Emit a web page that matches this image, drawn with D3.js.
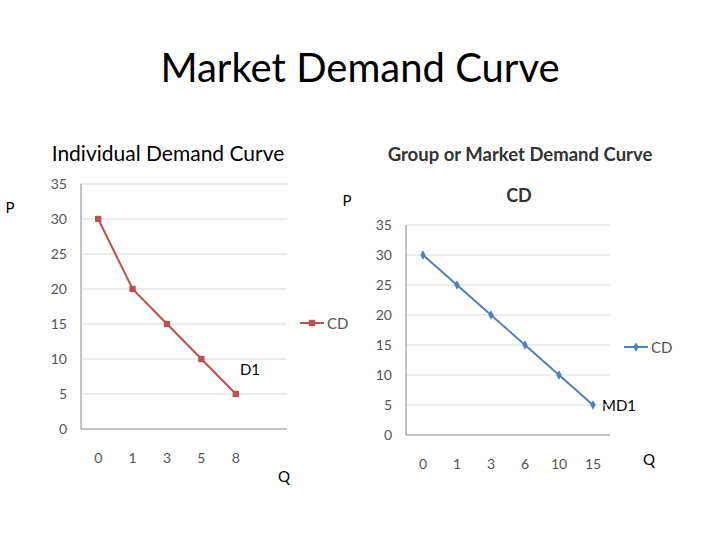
<!DOCTYPE html>
<html><head><meta charset="utf-8">
<script src="https://cdn.jsdelivr.net/npm/d3@7/dist/d3.min.js"></script>
<style>body{margin:0;background:#fff}text{font-family:Lato,"Open Sans",sans-serif}</style>
</head><body><svg id="c" width="720" height="540"></svg>
<script>
const leftCats=["0","1","3","5","8"];
const leftVals=[30,20,15,10,5];
const rightCats=["0","1","3","6","10","15"];
const rightVals=[30,25,20,15,10,5];
const yTicks=[0,5,10,15,20,25,30,35];

const svg=d3.select("#c");
svg.append("text").attr("x",360).attr("y",82).attr("text-anchor","middle").attr("font-size",40).text("Market Demand Curve");
svg.append("text").attr("x",168).attr("y",161).attr("text-anchor","middle").attr("font-size",21).text("Individual Demand Curve");
svg.append("text").attr("x",520).attr("y",161).attr("text-anchor","middle").attr("font-size",18.5).attr("font-weight","bold").attr("fill","#333").text("Group or Market Demand Curve");
svg.append("text").attr("x",10).attr("y",213).attr("text-anchor","middle").attr("font-size",15).text("P");
svg.append("text").attr("x",347).attr("y",206).attr("text-anchor","middle").attr("font-size",15).text("P");
svg.append("text").attr("x",519).attr("y",202).attr("text-anchor","middle").attr("font-size",18).attr("font-weight","bold").attr("fill","#333").text("CD");
svg.append("text").attr("x",250).attr("y",375).attr("text-anchor","middle").attr("font-size",15).text("D1");
svg.append("text").attr("x",619).attr("y",411).attr("text-anchor","middle").attr("font-size",15).text("MD1");
svg.append("text").attr("x",284).attr("y",482).attr("text-anchor","middle").attr("font-size",15).text("Q");
svg.append("text").attr("x",649).attr("y",465).attr("text-anchor","middle").attr("font-size",15).text("Q");

function chart(cats,vals,x0,x1,xEnd,yTop,yBot,color,symbol,legX,legY){
  const x=d3.scaleBand().domain(cats).range([x0,x1]);
  const y=d3.scaleLinear().domain([0,35]).range([yBot,yTop]);
  const g=svg.append("g");
  yTicks.forEach(t=>{
    g.append("line").attr("x1",x0).attr("x2",xEnd).attr("y1",y(t)).attr("y2",y(t)).attr("stroke",t===0?"#888":"#d9d9d9");
    g.append("text").attr("x",x0-14).attr("y",y(t)+5).attr("text-anchor","end").attr("font-size",14).attr("fill","#555").text(t);
  });
  g.append("line").attr("x1",x0).attr("x2",x0).attr("y1",yTop).attr("y2",yBot).attr("stroke","#888");
  cats.forEach(c=>{
    g.append("text").attr("x",x(c)+x.bandwidth()/2).attr("y",yBot+34).attr("text-anchor","middle").attr("font-size",14).attr("fill","#555").text(c);
  });
  const pts=cats.map((c,i)=>[x(c)+x.bandwidth()/2,y(vals[i])]);
  g.append("path").attr("d",d3.line()(pts)).attr("fill","none").attr("stroke",color).attr("stroke-width",2);
  const sym=d3.symbol().type(symbol).size(symbol===d3.symbolSquare?40:25);
  pts.forEach(p=>g.append("path").attr("d",sym()).attr("transform",`translate(${p[0]},${p[1]})`).attr("fill",color));
  g.append("line").attr("x1",legX).attr("x2",legX+24).attr("y1",legY).attr("y2",legY).attr("stroke",color).attr("stroke-width",2);
  g.append("path").attr("d",sym()).attr("transform",`translate(${legX+12},${legY})`).attr("fill",color);
  g.append("text").attr("x",legX+27).attr("y",legY+6).attr("font-size",15).attr("fill","#555").text("CD");
}
chart(leftCats,leftVals,81,253,287,184,429,"#C0504D",d3.symbolSquare,300,323);
chart(rightCats,rightVals,406,610,610,225,435,"#4F81BD",d3.symbolDiamond,624,347);
</script></body></html>
